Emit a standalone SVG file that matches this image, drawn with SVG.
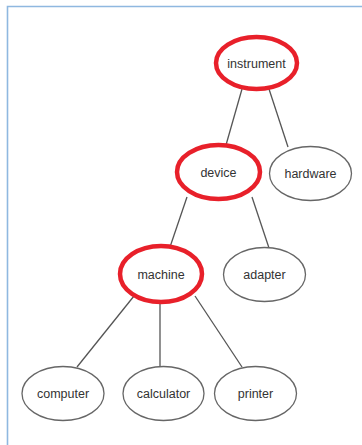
<svg xmlns="http://www.w3.org/2000/svg" width="362" height="445" viewBox="0 0 362 445">
<style>
.frame{fill:#fff;stroke:#8fb8e0;stroke-width:1.6}
.n ellipse{fill:#fff;stroke:#666;stroke-width:1.3}
.n.hl ellipse{stroke:#e8202a;stroke-width:4.5}
.n text{font-family:"Liberation Sans",Arial,sans-serif;font-size:12.5px;fill:#333;text-anchor:middle}
#edges line{stroke:#555;stroke-width:1.3}
</style>
<rect width="362" height="445" fill="#fff"/>
<path class="frame" d="M7.5 450 V6.5 H370"/>
<g id="edges">
<line x1="242" y1="89" x2="226" y2="145"/>
<line x1="269" y1="89" x2="288" y2="147"/>
<line x1="187" y1="197" x2="170" y2="247"/>
<line x1="252" y1="197" x2="269" y2="248"/>
<line x1="134" y1="296" x2="77" y2="367"/>
<line x1="160" y1="302" x2="160" y2="366"/>
<line x1="195" y1="296" x2="242" y2="367"/>
</g>
<g id="instrument" class="n hl"><ellipse cx="256.5" cy="63" rx="40.5" ry="26"/><text x="256.5" y="67.5">instrument</text></g>
<g id="device" class="n hl"><ellipse cx="218.5" cy="172" rx="41.5" ry="27"/><text x="218.5" y="176.5">device</text></g>
<g id="hardware" class="n"><ellipse cx="310.5" cy="173.5" rx="41" ry="27"/><text x="310.5" y="178">hardware</text></g>
<g id="machine" class="n hl"><ellipse cx="161" cy="274" rx="41" ry="28"/><text x="161" y="278.5">machine</text></g>
<g id="adapter" class="n"><ellipse cx="264.5" cy="274.5" rx="41" ry="27"/><text x="264.5" y="279">adapter</text></g>
<g id="computer" class="n"><ellipse cx="63" cy="393.5" rx="41" ry="27"/><text x="63" y="398">computer</text></g>
<g id="calculator" class="n"><ellipse cx="163.5" cy="393.5" rx="40.5" ry="27"/><text x="163.5" y="398">calculator</text></g>
<g id="printer" class="n"><ellipse cx="255.5" cy="393.5" rx="41" ry="27"/><text x="255.5" y="398">printer</text></g>
</svg>
